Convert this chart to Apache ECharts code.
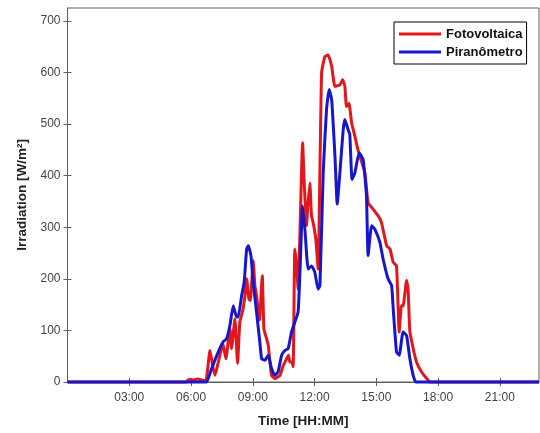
<!DOCTYPE html>
<html>
<head>
<meta charset="utf-8">
<script src="https://cdn.jsdelivr.net/npm/echarts@6/dist/echarts.min.js"></script>
<style>html,body{margin:0;padding:0;background:#fff}#c{width:540px;height:433px}</style>
</head>
<body>
<div id="c"></div>
<script>
// Time in decimal hours, irradiation in W/m²
var fvTime  = [0, 5.75, 5.90, 6.14, 6.33, 6.58, 6.72, 6.92, 7.06, 7.16, 7.31, 7.55, 7.69, 7.89, 7.97, 8.13, 8.26, 8.37, 8.52, 8.62, 8.70, 8.81, 8.88, 9.02, 9.10, 9.18, 9.32, 9.46, 9.54, 9.67, 9.75, 9.83, 9.91, 10.07, 10.32, 10.46, 10.64, 10.73, 10.80, 10.90, 10.96, 11.04, 11.13, 11.20, 11.42, 11.49, 11.61, 11.67, 11.77, 11.85, 11.93, 12.06, 12.17, 12.34, 12.50, 12.66, 12.83, 12.99, 13.23, 13.36, 13.47, 13.55, 13.67, 13.80, 13.96, 14.10, 14.20, 14.44, 14.60, 14.84, 15.09, 15.25, 15.50, 15.66, 15.82, 15.98, 16.11, 16.22, 16.30, 16.47, 16.54, 16.63, 16.79, 16.95, 17.19, 17.44, 17.60, 22.9];
var fvValue = [0, 0, 5, 4, 6, 3, 2, 61, 30, 13, 36, 74, 45, 103, 65, 122, 36, 116, 140, 168, 200, 161, 158, 235, 187, 168, 120, 206, 103, 84, 71, 40, 13, 7, 13, 30, 45, 52, 39, 39, 30, 258, 225, 180, 464, 393, 303, 340, 386, 322, 309, 277, 219, 599, 631, 634, 612, 573, 576, 586, 573, 534, 540, 502, 476, 451, 438, 406, 348, 335, 322, 309, 264, 258, 232, 225, 97, 148, 148, 197, 180, 97, 65, 39, 20, 7, 0, 0];
var pyrTime  = [0, 6.70, 6.76, 7.00, 7.32, 7.56, 7.73, 7.89, 8.05, 8.21, 8.29, 8.46, 8.58, 8.70, 8.78, 8.91, 9.02, 9.18, 9.34, 9.43, 9.59, 9.75, 9.91, 10.07, 10.23, 10.40, 10.56, 10.72, 10.88, 11.04, 11.20, 11.29, 11.42, 11.53, 11.69, 11.85, 12.01, 12.17, 12.26, 12.42, 12.58, 12.71, 12.83, 12.99, 13.10, 13.23, 13.39, 13.47, 13.63, 13.71, 13.82, 13.96, 14.05, 14.17, 14.36, 14.52, 14.60, 14.77, 14.93, 15.17, 15.33, 15.57, 15.74, 15.82, 15.98, 16.11, 16.30, 16.47, 16.63, 16.79, 16.92, 22.9];
var pyrValue = [0, 0, 0, 26, 58, 78, 84, 110, 148, 126, 126, 168, 193, 258, 264, 245, 193, 136, 78, 45, 42, 52, 26, 13, 20, 52, 61, 65, 97, 116, 136, 213, 341, 296, 219, 225, 213, 180, 187, 406, 528, 567, 547, 438, 345, 406, 489, 509, 489, 480, 393, 406, 425, 444, 431, 361, 245, 303, 296, 271, 238, 200, 187, 142, 58, 52, 97, 90, 45, 13, 0, 0];
var xTicks = [3, 6, 9, 12, 15, 18, 21];
var yTicks = [0, 100, 200, 300, 400, 500, 600, 700];
var seriesNames = ['Fotovoltaica', 'Piranômetro'];

function pairs(t, v) { return t.map(function (x, i) { return [x, v[i]]; }); }
function hhmm(h) { var s = String(Math.round(h)); return (s.length < 2 ? '0' + s : s) + ':00'; }

var frame = '#5f5f5f';
var labelColor = '#444';
var font = '"Liberation Sans", Arial, sans-serif';
var X_MAX = 22.9, Y_MAX = 725;

var chart = echarts.init(document.getElementById('c'), null, { renderer: 'canvas' });
chart.setOption({
  animation: false,
  backgroundColor: '#fff',
  grid: { left: 67.5, right: 1, top: 8, bottom: 49.5, show: true, borderColor: frame, borderWidth: 1, backgroundColor: 'transparent' },
  legend: {
    data: seriesNames,
    orient: 'vertical',
    left: 394, top: 22,
    padding: [5, 4, 5, 5],
    itemGap: 4,
    icon: 'path://M0,0 L42,0 L42,3 L0,3 Z',
    itemWidth: 42, itemHeight: 3,
    backgroundColor: '#fff',
    borderColor: '#000', borderWidth: 1, borderRadius: 0,
    textStyle: { fontFamily: font, fontWeight: 'bold', fontSize: 13, color: '#111', lineHeight: 14 }
  },
  xAxis: [{
    type: 'value', min: 0, max: X_MAX,
    name: 'Time [HH:MM]', nameLocation: 'middle', nameGap: 32,
    nameTextStyle: { fontFamily: font, fontWeight: 'bold', fontSize: 13.5, color: '#222' },
    axisLine: { show: true, lineStyle: { color: frame, width: 1 } },
    axisTick: { show: true, inside: true, length: 4, customValues: xTicks, lineStyle: { color: frame } },
    axisLabel: { customValues: xTicks, formatter: hhmm, color: labelColor, fontFamily: font, fontSize: 12, margin: 10 },
    splitLine: { show: false }
  }, {
    type: 'value', min: 0, max: X_MAX, position: 'top',
    axisLine: { show: false },
    axisTick: { show: true, inside: true, length: 4, customValues: xTicks, lineStyle: { color: frame } },
    axisLabel: { show: false }, splitLine: { show: false }
  }],
  yAxis: [{
    type: 'value', min: 0, max: Y_MAX,
    name: 'Irradiation [W/m²]', nameLocation: 'middle', nameGap: 36,
    nameTextStyle: { fontFamily: font, fontWeight: 'bold', fontSize: 13.5, color: '#222' },
    axisLine: { show: true, lineStyle: { color: frame, width: 1 } },
    axisTick: { show: true, inside: true, length: 4, customValues: yTicks, lineStyle: { color: frame } },
    axisLabel: { customValues: yTicks, color: labelColor, fontFamily: font, fontSize: 12, margin: 7 },
    splitLine: { show: false }
  }, {
    type: 'value', min: 0, max: Y_MAX, position: 'right',
    axisLine: { show: false },
    axisTick: { show: true, inside: true, length: 4, customValues: yTicks, lineStyle: { color: frame } },
    axisLabel: { show: false }, splitLine: { show: false }
  }],
  series: [{
    name: seriesNames[0], type: 'line', symbol: 'none', smooth: 0.15, clip: false,
    data: pairs(fvTime, fvValue),
    lineStyle: { color: '#e3161c', width: 3 }, itemStyle: { color: '#e3161c' }
  }, {
    name: seriesNames[1], type: 'line', symbol: 'none', smooth: 0.15, clip: false,
    data: pairs(pyrTime, pyrValue),
    lineStyle: { color: '#1616cc', width: 3 }, itemStyle: { color: '#1616cc' }
  }]
});
</script>
</body>
</html>
